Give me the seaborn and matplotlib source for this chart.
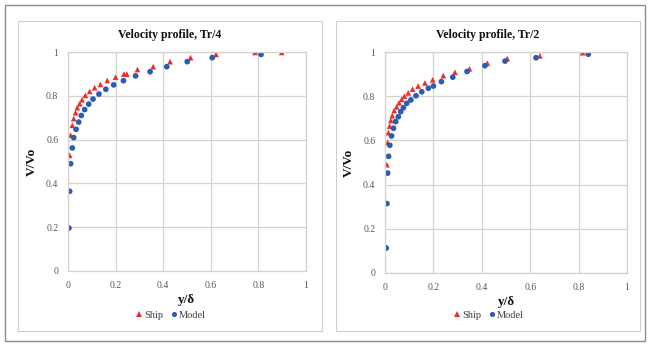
import matplotlib
matplotlib.use("Agg")
import matplotlib.pyplot as plt
from matplotlib.patches import Rectangle
import seaborn as sns
import pandas as pd

# ---- data ----
left_title = "Velocity profile, Tr/4"
right_title = "Velocity profile, Tr/2"
series_names = ["Ship", "Model"]
x_ticks = [0, 0.2, 0.4, 0.6, 0.8, 1]
y_ticks = [0, 0.2, 0.4, 0.6, 0.8, 1]
x_tick_labels = ["0", "0.2", "0.4", "0.6", "0.8", "1"]
y_tick_labels = ["0", "0.2", "0.4", "0.6", "0.8", "1"]

left_ship_x = [0.007, 0.011, 0.018, 0.024, 0.032, 0.039, 0.049, 0.059, 0.073, 0.091, 0.112, 0.136,
               0.165, 0.200, 0.235, 0.247, 0.292, 0.358, 0.429, 0.515, 0.622, 0.786, 0.898]
left_ship_v = [0.528, 0.620, 0.665, 0.696, 0.723, 0.746, 0.764, 0.782, 0.802, 0.820, 0.837, 0.852,
               0.870, 0.885, 0.899, 0.899, 0.920, 0.933, 0.956, 0.974, 0.989, 0.998, 0.998]
left_model_x = [0.004, 0.007, 0.011, 0.018, 0.024, 0.034, 0.045, 0.056, 0.070, 0.087, 0.105, 0.130,
                0.159, 0.192, 0.233, 0.284, 0.345, 0.415, 0.501, 0.606, 0.811]
left_model_v = [0.196, 0.364, 0.490, 0.562, 0.609, 0.647, 0.680, 0.710, 0.737, 0.762, 0.785, 0.808,
                0.830, 0.850, 0.869, 0.891, 0.910, 0.933, 0.956, 0.974, 0.989]

right_ship_x = [0.008, 0.011, 0.014, 0.019, 0.024, 0.030, 0.038, 0.048, 0.058, 0.069, 0.080, 0.096,
                0.114, 0.137, 0.165, 0.197, 0.241, 0.289, 0.349, 0.423, 0.505, 0.640, 0.817]
right_ship_v = [0.490, 0.590, 0.635, 0.665, 0.690, 0.712, 0.735, 0.752, 0.770, 0.786, 0.800, 0.815,
                0.832, 0.846, 0.860, 0.874, 0.893, 0.908, 0.924, 0.949, 0.970, 0.983, 0.997]
right_model_x = [0.005, 0.008, 0.011, 0.015, 0.020, 0.027, 0.035, 0.044, 0.055, 0.065, 0.076, 0.090,
                 0.107, 0.128, 0.152, 0.179, 0.200, 0.233, 0.280, 0.339, 0.413, 0.496, 0.624, 0.840]
right_model_v = [0.113, 0.314, 0.452, 0.528, 0.578, 0.620, 0.655, 0.685, 0.707, 0.730, 0.748, 0.768,
                 0.783, 0.802, 0.820, 0.836, 0.846, 0.866, 0.886, 0.912, 0.938, 0.959, 0.974, 0.990]


def frame(sx, sv, mx, mv):
    return pd.DataFrame({
        "x": list(sx) + list(mx),
        "v": list(sv) + list(mv),
        "series": [series_names[0]] * len(sx) + [series_names[1]] * len(mx),
    })


sns.set_theme(style="white")
plt.rcParams["font.family"] = ["Liberation Serif", "DejaVu Serif"]

W, H = 649, 347
fig = plt.figure(figsize=(W / 100, H / 100), dpi=100)
fig.patch.set_facecolor("white")


def fig_rect(x0, y0, x1, y1, **kw):
    fig.add_artist(Rectangle((x0 / W, 1 - y1 / H), (x1 - x0) / W, (y1 - y0) / H,
                             transform=fig.transFigure, fill=False, **kw))


# outer frame and panel frames
fig_rect(5, 5, 645, 341, ec="#8c8c8c", lw=1.0)
fig_rect(18, 21, 322, 331, ec="#cfcfcf", lw=0.8)
fig_rect(336, 21, 640, 331, ec="#cfcfcf", lw=0.8)

palette = {"Ship": "#e8312b", "Model": "#2b5cb3"}
markers = {"Ship": "^", "Model": "o"}
grid_col = "#d6d2cf"


def panel(px0, py0, px1, py1, panel_x0, panel_x1, title, df):
    ax = fig.add_axes([px0 / W, 1 - py1 / H, (px1 - px0) / W, (py1 - py0) / H])
    sns.scatterplot(data=df, x="x", y="v", hue="series", style="series",
                    palette=palette, markers=markers, s=17, linewidth=0,
                    ax=ax, legend=True)
    ax.set_xlim(0, 1)
    ax.set_ylim(0, 1)
    ax.set_xticks(x_ticks)
    ax.set_yticks(y_ticks)
    ax.set_xticklabels(x_tick_labels)
    ax.set_yticklabels(y_tick_labels)
    ax.tick_params(axis="both", length=0, labelsize=7, colors="#595959", pad=7)
    ax.grid(True, color=grid_col, lw=0.9)
    for sp in ax.spines.values():
        sp.set_color(grid_col)
        sp.set_linewidth(0.9)
    ax.set_xlabel("y/δ", fontsize=9.5, fontweight="bold", labelpad=3, color="#111111")
    ax.set_ylabel("V/Vo", fontsize=9.5, fontweight="bold", labelpad=6, color="#111111")
    cx = ((panel_x0 + panel_x1) / 2 - px0) / (px1 - px0)
    ax.text(cx, 1 + (py0 - 35) / (py1 - py0), title, transform=ax.transAxes,
            ha="center", va="center", fontsize=8.5, fontweight="bold", color="#111111")
    sns.move_legend(ax, "center", bbox_to_anchor=(cx, -(315 - py1) / (py1 - py0)),
                    ncol=2, frameon=False, title=None, fontsize=7.5,
                    handletextpad=0.0, columnspacing=0.5, handlelength=1.0,
                    markerscale=0.9)
    for t in ax.get_legend().get_texts():
        t.set_color("#404040")
    return ax


panel(68, 52, 306, 271, 18, 322, left_title,
      frame(left_ship_x, left_ship_v, left_model_x, left_model_v))
panel(385, 52, 627, 273, 336, 640, right_title,
      frame(right_ship_x, right_ship_v, right_model_x, right_model_v))

fig.savefig("out.png", dpi=100)
